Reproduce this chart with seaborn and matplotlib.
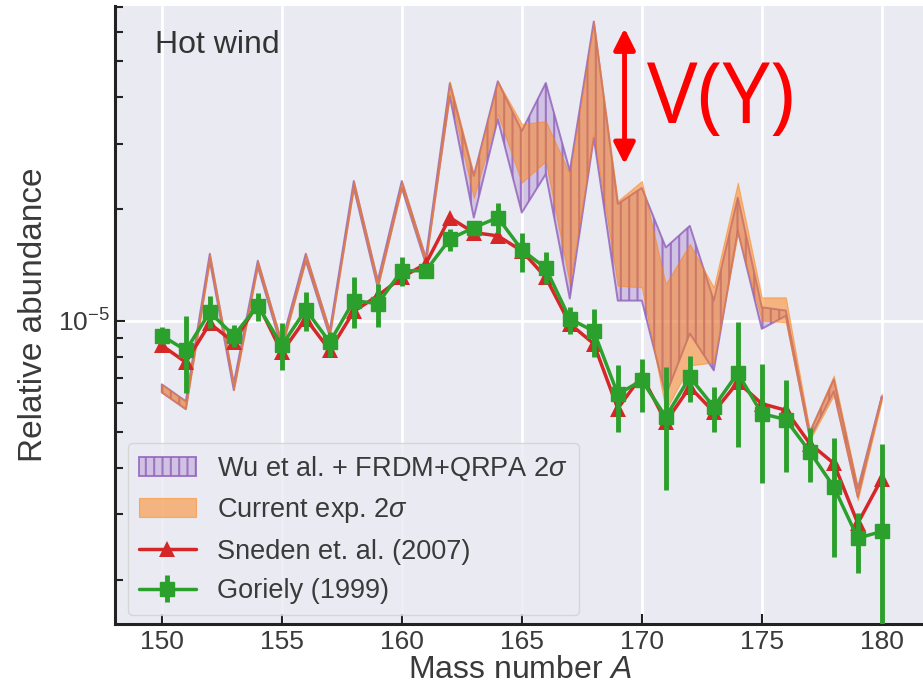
import numpy as np
import matplotlib
matplotlib.use("Agg")
import matplotlib.pyplot as plt
import seaborn as sns
from matplotlib.ticker import LogLocator, NullFormatter, FixedLocator

# ---------------- data (abundances in units of 1e-5) ----------------
mass = [150, 151, 152, 153, 154, 155, 156, 157, 158, 159, 160, 161, 162, 163, 164, 165,
        166, 167, 168, 169, 170, 171, 172, 173, 174, 175, 176, 177, 178, 179, 180]

sneden = [0.857, 0.772, 0.982, 0.874, 1.111, 0.822, 1.012, 0.831, 1.059, 1.167, 1.307, 1.423,
          1.895, 1.727, 1.692, 1.542, 1.307, 0.980, 0.866, 0.579, 0.711, 0.533, 0.662, 0.567,
          0.682, 0.597, 0.573, 0.466, 0.412, 0.284, 0.375]

goriely = [0.911, 0.831, 1.053, 0.911, 1.097, 0.857, 1.070, 0.874, 1.132, 1.111, 1.363, 1.363,
           1.658, 1.781, 1.895, 1.552, 1.384, 1.011, 0.936, 0.633, 0.690, 0.550, 0.704, 0.585,
           0.722, 0.561, 0.541, 0.443, 0.356, 0.259, 0.270]
goriely_hi = [0.959, 1.027, 1.162, 0.970, 1.184, 0.983, 1.191, 0.930, 1.307, 1.255, 1.480, 1.406,
              1.764, 1.857, 2.080, 1.727, 1.526, 1.086, 1.075, 0.757, 0.789, 0.749, 0.805, 0.662,
              0.990, 0.765, 0.690, 0.512, 0.481, 0.302, 0.466]
goriely_lo = [0.866, 0.636, 0.952, 0.848, 1.000, 0.734, 0.940, 0.797, 0.952, 0.959, 1.242, 1.321,
              1.542, 1.713, 1.727, 1.348, 1.255, 0.921, 0.797, 0.501, 0.567, 0.349, 0.603, 0.501,
              0.456, 0.364, 0.391, 0.367, 0.231, 0.2085, 0.15]

exp_hi = [0.673, 0.606, 1.514, 0.677, 1.450, 0.873, 1.514, 0.940, 2.379, 1.281, 2.379, 1.477,
          4.418, 2.484, 4.418, 3.390, 3.448, 2.484, 6.405, 2.102, 2.379, 1.255, 1.608, 1.229,
          2.354, 1.155, 1.155, 0.506, 0.711, 0.356, 0.635]
exp_lo = [0.640, 0.577, 1.450, 0.649, 1.397, 0.841, 1.450, 0.906, 2.278, 1.227, 2.278, 1.423,
          4.077, 2.141, 3.602, 2.354, 2.692, 1.255, 3.177, 1.242, 1.229, 0.573, 0.757, 0.771,
          1.713, 1.000, 0.990, 0.476, 0.629, 0.328, 0.609]

wu_hi = [0.673, 0.606, 1.514, 0.677, 1.450, 0.873, 1.514, 0.940, 2.379, 1.281, 2.379, 1.477,
         4.363, 2.454, 4.418, 3.243, 4.371, 2.530, 6.405, 2.063, 2.278, 1.574, 1.800, 1.132,
         2.145, 1.086, 1.064, 0.500, 0.694, 0.352, 0.625]
wu_lo = [0.640, 0.577, 1.450, 0.649, 1.397, 0.841, 1.450, 0.906, 2.278, 1.227, 2.278, 1.423,
         4.026, 1.895, 3.491, 1.955, 2.484, 1.146, 3.110, 1.132, 1.132, 0.629, 0.923, 0.734,
         1.746, 0.950, 1.030, 0.482, 0.644, 0.334, 0.618]

unit = 1e-5
x_ticks = [150, 155, 160, 165, 170, 175, 180]
labels = ["Wu et al. + FRDM+QRPA 2$\\sigma$", "Current exp. 2$\\sigma$",
          "Sneden et. al. (2007)", "Goriely (1999)"]
panel_title = "Hot wind"
annot_text = "V(Y)"
annot_x = 169.28
annot_y_top = 6.14e-5
annot_y_bot = 2.64e-5
annot_text_x = 170.2
annot_text_y = 3.9e-5

# ---------------- style ----------------
sns.set_theme(style="darkgrid")
plt.rcParams["font.family"] = ["Liberation Sans", "DejaVu Sans"]
plt.rcParams["mathtext.fontset"] = "custom"
plt.rcParams["mathtext.rm"] = "Liberation Sans"
plt.rcParams["mathtext.it"] = "Liberation Sans:italic"
plt.rcParams["mathtext.bf"] = "Liberation Sans:bold"
plt.rcParams["hatch.linewidth"] = 1.5

c_red = "#d62728"
c_green = "#2ca02c"
c_orange = "#ff7f0e"
c_purple = "#9467bd"

fig = plt.figure(figsize=(9.23, 6.92), dpi=100)
ax = fig.add_axes([115 / 923, 68 / 692, 810 / 923, 618 / 692])

m = np.array(mass)
s = np.array(sneden) * unit
g = np.array(goriely) * unit
gh = np.array(goriely_hi) * unit
gl = np.array(goriely_lo) * unit

h_wu = ax.fill_between(m, np.array(wu_lo) * unit, np.array(wu_hi) * unit,
                       facecolor=(0.58, 0.40, 0.74, 0.3), edgecolor=(0.58, 0.40, 0.74, 0.85),
                       hatch="||", linewidth=1.4, zorder=1)
h_exp = ax.fill_between(m, np.array(exp_lo) * unit, np.array(exp_hi) * unit,
                        facecolor=c_orange, edgecolor=c_orange, alpha=0.5,
                        linewidth=0.8, zorder=2)

sns.lineplot(x=m, y=s, ax=ax, color=c_red, marker="^", markersize=12,
             markeredgewidth=0, linewidth=2.5, zorder=3, legend=False)
h_red = ax.lines[-1]

h_green = ax.errorbar(m, g, yerr=[g - gl, gh - g], fmt="-s", color=c_green,
                      markersize=10, linewidth=2.5, elinewidth=3.5, capsize=0,
                      zorder=4)

ax.set_yscale("log")
ax.set_xlim(148.05, 181.8)
ax.set_ylim(1.52e-6, 7.05e-5)

ax.xaxis.set_major_locator(FixedLocator(x_ticks))
ax.yaxis.set_major_locator(LogLocator(base=10, numticks=10))
ax.yaxis.set_minor_locator(LogLocator(base=10, subs=np.arange(2, 10), numticks=20))
ax.yaxis.set_minor_formatter(NullFormatter())

ax.tick_params(axis="both", which="both", direction="in", left=True, bottom=True,
               color="#222222", labelcolor="#3a3a3a")
ax.tick_params(which="major", length=7, width=1.5, labelsize=19, pad=4)
ax.tick_params(which="minor", length=5.5, width=1.5)
ax.grid(True, which="major", color="white", linewidth=2)
ax.grid(False, which="minor")

for side in ("top", "right"):
    ax.spines[side].set_visible(False)
for side in ("left", "bottom"):
    ax.spines[side].set_color("#222222")
    ax.spines[side].set_linewidth(2.2)

ax.set_xlabel("Mass number $A$", fontsize=23, color="#3a3a3a", labelpad=1)
ax.set_ylabel("Relative abundance", fontsize=24, color="#3a3a3a", labelpad=6)

ax.text(0.049, 0.937, panel_title, transform=ax.transAxes, fontsize=23,
        color="#333333", va="center", ha="left")

ax.legend([h_wu, h_exp, h_red, h_green], labels, loc="upper left",
          bbox_to_anchor=(0.016, 0.293), borderaxespad=0, fontsize=19.5,
          handlelength=2.1, labelspacing=0.5, framealpha=0.8,
          edgecolor="0.82", labelcolor="#3a3a3a")

ax.annotate("", xy=(annot_x, annot_y_top), xytext=(annot_x, annot_y_bot),
            arrowprops=dict(arrowstyle="<|-|>,head_length=0.4,head_width=0.2",
                            color="red", lw=3.5, mutation_scale=32,
                            shrinkA=0, shrinkB=0), zorder=6)
ax.text(annot_text_x, annot_text_y, annot_text, fontsize=61, color="red",
        family=["Open Sans", "Liberation Sans"], va="center", ha="left", zorder=6)

fig.savefig("out.png", dpi=100)
